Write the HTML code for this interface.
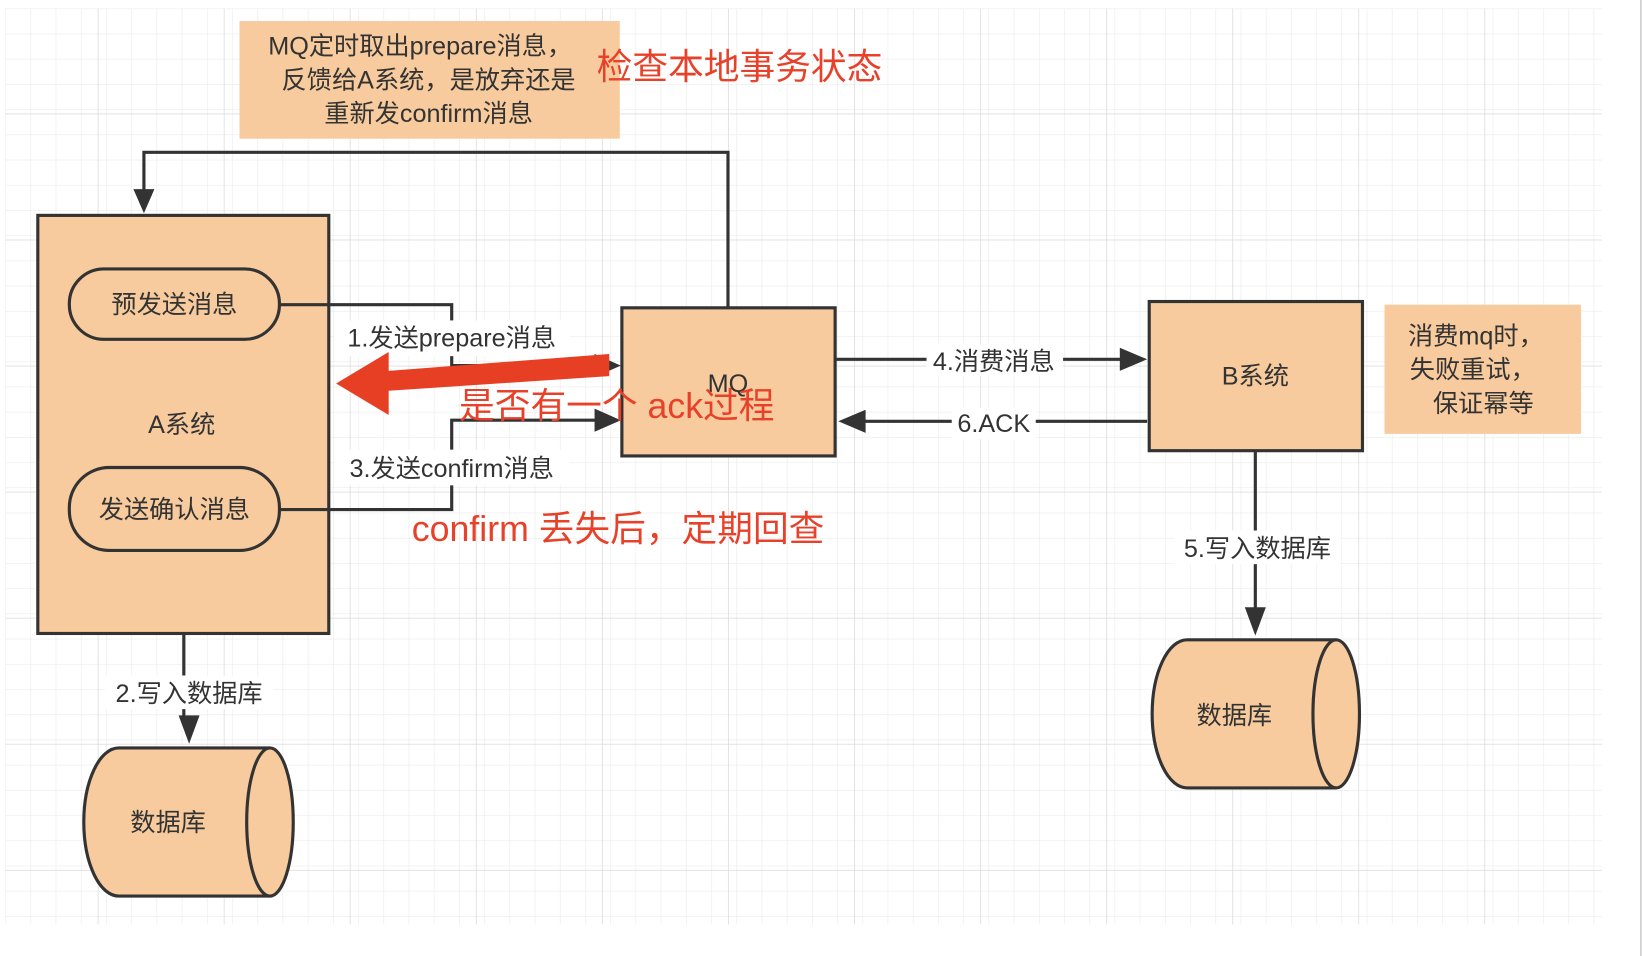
<!DOCTYPE html>
<html><head><meta charset="utf-8"><style>
html,body{margin:0;padding:0;background:#fff;width:1644px;height:956px;overflow:hidden}
svg{display:block}
text{font-family:"Liberation Sans","Noto Sans CJK SC",sans-serif}
</style></head><body>
<svg width="1644" height="956" viewBox="0 0 1565 910" xmlns="http://www.w3.org/2000/svg">
<defs>
<pattern id="g" x="5" y="8" width="24" height="24" patternUnits="userSpaceOnUse">
<path d="M0 0H24M0 0V24" stroke="#ebebeb" stroke-width="1.2" fill="none"/>
</pattern>
<pattern id="G" x="93" y="108" width="120" height="120" patternUnits="userSpaceOnUse">
<path d="M0 0H120M0 0V120" stroke="#dedede" stroke-width="1.6" fill="none"/>
</pattern>
</defs>
<rect x="5" y="8" width="1520" height="872" fill="url(#g)"/>
<rect x="5" y="8" width="1520" height="872" fill="url(#G)"/>
<line x1="1562" y1="0" x2="1562" y2="910" stroke="#ccc" stroke-width="1.5"/>

<g fill="#333" font-size="24" text-anchor="middle">
<!-- top note -->
<rect x="228" y="20" width="362" height="112" fill="#f7cb9d"/>
<text x="400" y="52">MQ定时取出prepare消息，</text>
<text x="408" y="84">反馈给A系统，是放弃还是</text>
<text x="408" y="116">重新发confirm消息</text>

<!-- feedback connector -->
<path d="M693 292V145H137V185" fill="none" stroke="#333" stroke-width="3"/>
<path d="M127 180L147 180L137 203Z"/>

<!-- A box -->
<rect x="36" y="205" width="277" height="398" fill="#f7cb9d" stroke="#333" stroke-width="3"/>
<rect x="66" y="256" width="200" height="67" rx="33" fill="#f7cb9d" stroke="#333" stroke-width="3"/>
<text x="166" y="298">预发送消息</text>
<text x="173" y="412">A系统</text>
<rect x="66" y="445" width="200" height="79" rx="38" fill="#f7cb9d" stroke="#333" stroke-width="3"/>
<text x="166" y="493">发送确认消息</text>

<!-- 1 / 3 connectors -->
<path d="M266 290H430V348H570" fill="none" stroke="#333" stroke-width="3"/>
<path d="M566 337L591 348L566 359Z"/>
<path d="M266 485H430V400H570" fill="none" stroke="#333" stroke-width="3"/>
<path d="M566 389L591 400L566 411Z"/>
<rect x="318" y="305" width="224" height="34" fill="#fff"/>
<text x="430" y="330">1.发送prepare消息</text>
<rect x="318" y="428" width="224" height="34" fill="#fff"/>
<text x="430" y="454">3.发送confirm消息</text>

<!-- MQ -->
<rect x="592" y="293" width="203" height="141" fill="#f7cb9d" stroke="#333" stroke-width="3"/>
<text x="693" y="373">MQ</text>

<!-- 4 / 6 -->
<path d="M795 342H1072" fill="none" stroke="#333" stroke-width="3"/>
<path d="M1066 331L1092 342L1066 353Z"/>
<path d="M1092 401H818" fill="none" stroke="#333" stroke-width="3"/>
<path d="M824 390L798 401L824 412Z"/>
<rect x="882" y="328" width="130" height="30" fill="#fff"/>
<text x="946" y="352">4.消费消息</text>
<rect x="906" y="388" width="80" height="30" fill="#fff"/>
<text x="946" y="411">6.ACK</text>

<!-- B -->
<rect x="1094" y="287" width="203" height="142" fill="#f7cb9d" stroke="#333" stroke-width="3"/>
<text x="1195" y="366">B系统</text>
<rect x="1318" y="290" width="187" height="123" fill="#f7cb9d"/>
<text x="1405" y="328">消费mq时，</text>
<text x="1402" y="360">失败重试，</text>
<text x="1412" y="392">保证幂等</text>

<!-- 5 -->
<path d="M1195 429V585" fill="none" stroke="#333" stroke-width="3"/>
<path d="M1185 578L1205 578L1195 605Z"/>
<rect x="1118" y="505" width="158" height="32" fill="#fff"/>
<text x="1197" y="530">5.写入数据库</text>
<path d="M1130 609H1272A22 70 0 0 1 1272 750H1130A33 70 0 0 1 1130 609Z" fill="#f7cb9d" stroke="#333" stroke-width="3"/>
<path d="M1272 609A22 70 0 0 0 1272 750" fill="none" stroke="#333" stroke-width="3"/>
<text x="1175" y="689">数据库</text>

<!-- 2 -->
<path d="M175 603V690" fill="none" stroke="#333" stroke-width="3"/>
<path d="M170 681L190 681L180 708Z"/>
<rect x="100" y="643" width="160" height="32" fill="#fff"/>
<text x="180" y="668">2.写入数据库</text>
<path d="M113 712H257A22 70 0 0 1 257 853H113A33 70 0 0 1 113 712Z" fill="#f7cb9d" stroke="#333" stroke-width="3"/>
<path d="M257 712A22 70 0 0 0 257 853" fill="none" stroke="#333" stroke-width="3"/>
<text x="160" y="791">数据库</text>
</g>

<!-- red annotations -->
<path d="M580 337L580 358L370 372L370 395L320 365L370 335L370 353Z" fill="#e63f24"/>
<g fill="#e8412a" font-size="34">
<text x="568" y="75">检查本地事务状态</text>
<text x="437" y="398">是否有一个 ack过程</text>
<text x="392" y="515">confirm 丢失后，定期回查</text>
</g>
</svg>
</body></html>
